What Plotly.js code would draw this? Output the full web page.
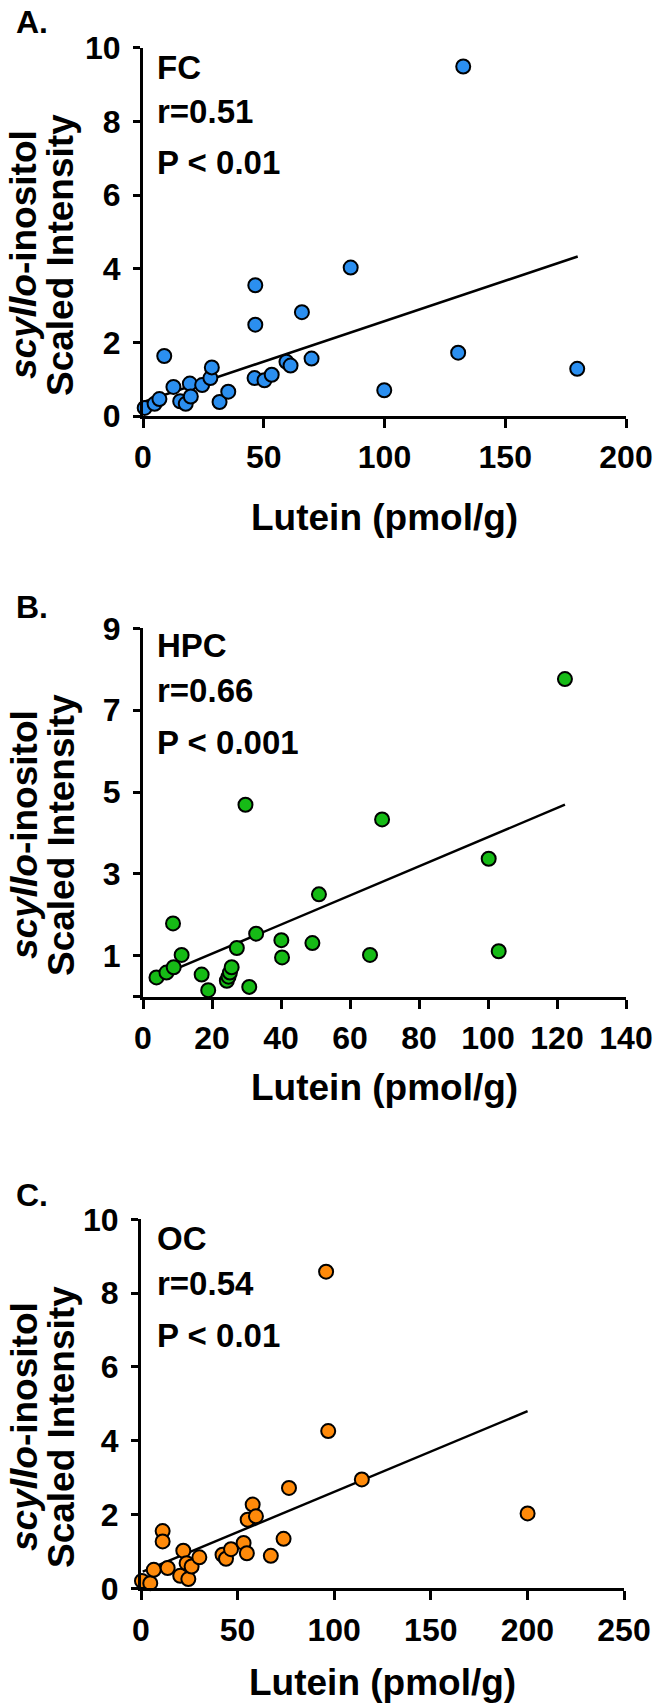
<!DOCTYPE html>
<html><head><meta charset="utf-8">
<script src="https://cdn.plot.ly/plotly-3.0.1.min.js"></script>
<style>html,body{margin:0;padding:0;background:#fff}</style>
</head><body><div id="chart" style="width:666px;height:1705px"></div>
<script>
// Panel A: FC
const fcLutein = [0.7, 4.8, 6.8, 8.8, 12.6, 15.4, 17.7, 19.4, 19.8, 24.5, 27.9, 28.5, 31.7, 35.3, 46.2, 50.3, 53.3, 59.4, 61.1, 69.8, 46.5, 46.5, 65.8, 86.0, 132.6, 130.5, 179.8, 99.9];
const fcScyllo = [0.22, 0.33, 0.46, 1.63, 0.79, 0.40, 0.33, 0.88, 0.53, 0.84, 1.03, 1.32, 0.38, 0.66, 1.03, 0.97, 1.12, 1.47, 1.37, 1.56, 2.48, 3.55, 2.82, 4.03, 9.49, 1.72, 1.28, 0.70];
const fcFitX = [0, 180];
const fcFitY = [0.38, 4.33];
// Panel B: HPC
const hpcLutein = [3.9, 6.8, 8.9, 8.7, 11.2, 17.0, 18.9, 24.3, 24.8, 25.2, 25.7, 27.2, 30.8, 32.8, 40.1, 40.3, 49.1, 51.0, 65.8, 103.1, 100.2, 69.3, 29.7, 122.3];
const hpcScyllo = [0.47, 0.59, 0.72, 1.79, 1.02, 0.54, 0.16, 0.39, 0.49, 0.59, 0.72, 1.19, 0.24, 1.54, 1.38, 0.96, 1.31, 2.50, 1.02, 1.11, 3.37, 4.33, 4.69, 7.76];
const hpcFitX = [3.7, 122.3];
const hpcFitY = [0.47, 4.69];
// Panel C: OC
const ocLutein = [0.5, 4.8, 6.6, 11.2, 11.2, 13.8, 20.3, 21.9, 23.6, 24.5, 26.2, 30.2, 42.2, 44.0, 46.6, 53.1, 54.8, 55.2, 57.8, 59.5, 67.2, 73.8, 76.6, 95.8, 96.9, 114.3, 200.1];
const ocScyllo = [0.20, 0.14, 0.50, 1.55, 1.27, 0.55, 0.34, 1.02, 0.68, 0.25, 0.59, 0.84, 0.91, 0.80, 1.06, 1.23, 0.95, 1.86, 2.27, 1.95, 0.88, 1.34, 2.72, 8.58, 4.26, 2.95, 2.03];
const ocFitX = [0.9, 200.1];
const ocFitY = [0.45, 4.80];

const panelLabels = ["A.", "B.", "C."];
const regionNames = ["FC", "HPC", "OC"];
const rValues = ["r=0.51", "r=0.66", "r=0.54"];
const pValues = ["P &lt; 0.01", "P &lt; 0.001", "P &lt; 0.01"];
const xTitle = "Lutein (pmol/g)";
const yTitle1 = "<i>scyllo</i>-inositol";
const yTitle2 = "Scaled Intensity";

const W = 666, H = 1705;
const FONT = "Liberation Sans, Arial, Helvetica, sans-serif";
const px = v => v / W;
const py = v => 1 - v / H;

const colors = ["#2b8ff0", "#16bb16", "#ff8a0a"];

function pts(x, y, i) {
  const s = i === 0 ? "" : String(i + 1);
  return {x, y, type: "scatter", mode: "markers", xaxis: "x" + s, yaxis: "y" + s,
    cliponaxis: false,
    marker: {size: 14, color: colors[i], line: {color: "#000", width: 2}}};
}
function fit(x, y, i) {
  const s = i === 0 ? "" : String(i + 1);
  return {x, y, type: "scatter", mode: "lines", xaxis: "x" + s, yaxis: "y" + s,
    cliponaxis: false, line: {color: "#000", width: 2.5}};
}

const data = [
  fit(fcFitX, fcFitY, 0), pts(fcLutein, fcScyllo, 0),
  fit(hpcFitX, hpcFitY, 1), pts(hpcLutein, hpcScyllo, 1),
  fit(ocFitX, ocFitY, 2), pts(ocLutein, ocScyllo, 2)
];

const tickFont = {family: FONT, size: 32, color: "#000", weight: "bold"};
function xax(domain, range, dtick, anchor) {
  return {domain, range, dtick, tick0: 0, tickmode: "linear", anchor,
    showline: true, linewidth: 3, linecolor: "#000", ticks: "outside", ticklen: 9, tickwidth: 3, tickcolor: "#000",
    showgrid: false, zeroline: false, tickfont: tickFont, fixedrange: true, ticklabelstandoff: 2};
}
function yax(domain, range, tickvals, ticktext, anchor) {
  return {domain, range, tickmode: "array", tickvals, ticktext, anchor,
    showline: true, linewidth: 3, linecolor: "#000", ticks: "outside", ticklen: 7, tickwidth: 3, tickcolor: "#000",
    showgrid: false, zeroline: false, tickfont: tickFont, fixedrange: true, ticklabelstandoff: 6};
}

// pixel geometry of each panel
const panels = [
  {x0: 143, x1: 626, yTop: 47.7, yBot: 416, labelY: 22, textY: [67, 112, 163], titleY: 517, yTitleC: 255},
  {x0: 143, x1: 626, yTop: 628.3, yBot: 996.7, labelY: 607, textY: [645, 690, 742], titleY: 1087, yTitleC: 835},
  {x0: 141, x1: 624, yTop: 1219.3, yBot: 1588.3, labelY: 1195, textY: [1238, 1283, 1335], titleY: 1682, yTitleC: 1427}
];
const xd = p => [px(p.x0), px(p.x1)];
const yd = p => [py(p.yBot), py(p.yTop)];

const layout = {
  width: W, height: H, margin: {l: 0, r: 0, t: 0, b: 0},
  paper_bgcolor: "#fff", plot_bgcolor: "rgba(0,0,0,0)", showlegend: false,
  xaxis: xax(xd(panels[0]), [0, 200], 50, "y"),
  yaxis: yax(yd(panels[0]), [0, 10], [0, 2, 4, 6, 8, 10], ["0", "2", "4", "6", "8", "10"], "x"),
  xaxis2: xax(xd(panels[1]), [0, 140], 20, "y2"),
  yaxis2: yax(yd(panels[1]), [0, 9], [0, 1, 3, 5, 7, 9], ["", "1", "3", "5", "7", "9"], "x2"),
  xaxis3: xax(xd(panels[2]), [0, 250], 50, "y3"),
  yaxis3: yax(yd(panels[2]), [0, 10], [0, 2, 4, 6, 8, 10], ["0", "2", "4", "6", "8", "10"], "x3"),
  annotations: []
};

const bold = (size) => ({family: FONT, size, color: "#000", weight: "bold"});
panels.forEach((p, i) => {
  const A = layout.annotations;
  A.push({text: panelLabels[i], xref: "paper", yref: "paper", x: px(14), y: py(p.labelY), xanchor: "left", yanchor: "middle", showarrow: false, font: bold(32)});
  [regionNames[i], rValues[i], pValues[i]].forEach((t, k) => {
    A.push({text: t, xref: "paper", yref: "paper", x: px(155), y: py(p.textY[k]), xanchor: "left", yanchor: "middle", showarrow: false, font: bold(33)});
  });
  A.push({text: xTitle, xref: "paper", yref: "paper", x: px((p.x0 + p.x1) / 2), y: py(p.titleY), xanchor: "center", yanchor: "middle", showarrow: false, font: bold(37)});
  A.push({text: yTitle1, xref: "paper", yref: "paper", x: px(24), y: py(p.yTitleC), xanchor: "center", yanchor: "middle", textangle: -90, showarrow: false, font: bold(37)});
  A.push({text: yTitle2, xref: "paper", yref: "paper", x: px(61), y: py(p.yTitleC), xanchor: "center", yanchor: "middle", textangle: -90, showarrow: false, font: bold(37)});
});

Plotly.newPlot("chart", data, layout, {displayModeBar: false, staticPlot: true});
</script>
</body></html>
